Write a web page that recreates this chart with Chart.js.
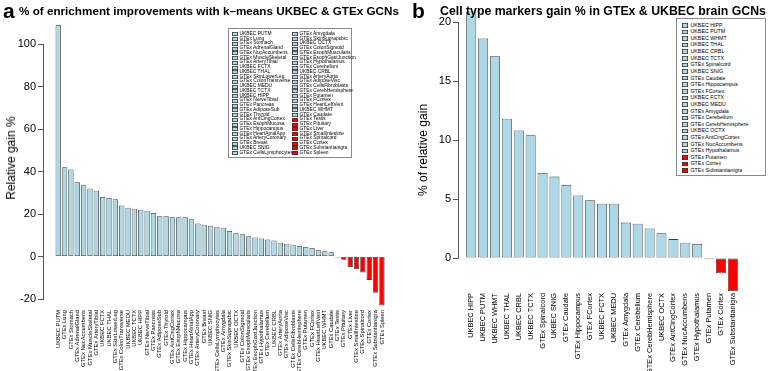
<!DOCTYPE html>
<html><head><meta charset="utf-8">
<script src="https://cdn.jsdelivr.net/npm/chart.js@4"></script>
<style>
body{margin:0;width:777px;height:371px;overflow:hidden;background:#fff;font-family:"Liberation Sans",Arial,sans-serif;position:relative}
canvas{position:absolute;top:0}
#ca{left:0}
#cb{left:400px}
.title{position:absolute;font-weight:bold;white-space:nowrap;color:#000;line-height:1}
.ytitle{position:absolute;white-space:nowrap;font-size:12px;color:#000;transform:translate(-50%,-50%) rotate(-90deg);line-height:1}
.leg{position:absolute;border:1px solid #8a8a8a;background:#fff;box-sizing:border-box;display:grid;grid-auto-flow:column;color:#000}
.li{display:flex;align-items:center;white-space:nowrap;line-height:1;overflow:visible}
.sw{display:inline-block;box-sizing:border-box;flex:none;box-shadow:inset 0 0 0 0.8px #333}
</style></head><body>
<canvas id="ca" width="400" height="371"></canvas>
<canvas id="cb" width="377" height="371"></canvas>
<div class="title" style="left:3px;top:0px;font-size:21px">a</div>
<div class="title" style="left:19px;top:5px;font-size:11.7px">% of enrichment improvements with k–means UKBEC &amp; GTEx GCNs</div>
<div class="title" style="left:412px;top:0px;font-size:21px">b</div>
<div class="title" style="left:440px;top:5px;font-size:12.3px">Cell type markers gain % in GTEx &amp; UKBEC brain GCNs</div>
<div class="ytitle" style="left:11px;top:158px">Relative gain %</div>
<div class="ytitle" style="left:423px;top:150px">% of relative gain</div>
<div id="legA" class="leg"></div>
<div id="legB" class="leg"></div>
<script>
// ---- data ----
const tissuesA = ["UKBEC PUTM","GTEx Lung","GTEx Stomach","GTEx AdrenalGland","GTEx NucAccumbens","GTEx MuscleSkeletal","GTEx ArteryTibial","UKBEC FCTX","UKBEC THAL","GTEx SkinLowerLeg","GTEx ColonTransverse","UKBEC MEDU","UKBEC TCTX","UKBEC HIPP","GTEx NerveTibial","GTEx Pancreas","GTEx AdiposeSub","GTEx Thyroid","GTEx AntCingCortex","GTEx EsophMucosa","GTEx Hippocampus","GTEx HeartAtrialApp","GTEx ArteryCoronary","GTEx Breast","UKBEC SNIG","GTEx CellsLymphocytes","GTEx Amygdala","GTEx SkinSuprapubic","UKBEC OCTX","GTEx ColonSigmoid","GTEx EsophMuscularis","GTEx EsophGastJunction","GTEx Hypothalamus","GTEx Cerebellum","UKBEC CRBL","GTEx ArteryAorta","GTEx AdiposeVisc","GTEx CellsFibroblasts","GTEx CerebHemisphere","GTEx Putamen","GTEx FCortex","GTEx HeartLeftVent","UKBEC WHMT","GTEx Caudate","GTEx Testis","GTEx Pituitary","GTEx Liver","GTEx SmallIntestine","GTEx Spinalcord","GTEx Cortex","GTEx Substantianigra","GTEx Spleen"];
const gainA = [109,42,41,35,33.5,32,31,28,27.5,27,24,23,22.5,22,21.5,20.5,19,19,18.5,18.5,18.5,17.5,15.5,15,14.5,14,13.5,12,11,10.5,9.5,9,8.5,8,7.5,6.5,6,5.5,5,4.5,4,3,2.5,2,-0.5,-1.5,-5,-6,-7.5,-11,-17,-23];
const ticksA = [-20,0,20,40,60,80,100];

const tissuesB = ["UKBEC HIPP","UKBEC PUTM","UKBEC WHMT","UKBEC THAL","UKBEC CRBL","UKBEC TCTX","GTEx Spinalcord","UKBEC SNIG","GTEx Caudate","GTEx Hippocampus","GTEx FCortex","UKBEC FCTX","UKBEC MEDU","GTEx Amygdala","GTEx Cerebellum","GTEx CerebHemisphere","UKBEC OCTX","GTEx AntCingCortex","GTEx NucAccumbens","GTEx Hypothalamus","GTEx Putamen","GTEx Cortex","GTEx Substantianigra"];
const gainB = [20.9,18.6,17.1,11.8,10.8,10.4,7.2,6.9,6.2,5.3,4.9,4.6,4.6,3.0,2.9,2.5,2.1,1.6,1.3,1.2,-0.1,-1.3,-2.8];
const ticksB = [0,5,10,15,20];

// ---- styles ----
const BLUE = "#add8e6", RED = "#ff0000", EDGE = "#3c3c3c", AX = "#555";
const FONT = "'Liberation Sans', Arial, sans-serif";
const colorOf = v => v < 0 ? RED : BLUE;

function makeChart(id, labels, values, yTicks, o) {
  return new Chart(document.getElementById(id), {
    type: "bar",
    data: { datasets: [{
      data: values.map((v, i) => ({ x: i, y: v })),
      backgroundColor: values.map(colorOf),
      borderColor: EDGE, borderWidth: o.bw, borderSkipped: false,
      barPercentage: o.barPct, categoryPercentage: 1, clip: false
    }]},
    options: {
      responsive: false, animation: false, devicePixelRatio: 1,
      layout: { padding: { top: o.top, right: o.right, left: 0, bottom: 0 } },
      plugins: { legend: { display: false }, tooltip: { enabled: false } },
      scales: {
        x: {
          type: "linear", min: o.xmin, max: o.xmax, offset: false,
          grid: { display: false, drawTicks: false }, border: { display: false },
          afterBuildTicks: s => { s.ticks = labels.map((_, i) => ({ value: i })); },
          afterFit: s => { s.height = o.xh; },
          ticks: { autoSkip: false, minRotation: 90, maxRotation: 90, padding: o.xpad,
            color: "#000", font: { family: FONT, size: o.xfs },
            callback: v => labels[v] }
        },
        y: {
          min: yTicks[0], max: yTicks[yTicks.length - 1],
          afterBuildTicks: s => { s.ticks = yTicks.map(v => ({ value: v })); },
          afterFit: s => { s.width = o.yw; },
          grid: { drawOnChartArea: false, drawTicks: true, tickLength: 5, color: AX },
          border: { display: true, color: AX, width: 1 },
          ticks: { padding: 2, color: "#000", font: { family: FONT, size: 11 } }
        }
      }
    }
  });
}

makeChart("ca", tissuesA, gainA, ticksA,
  { top: 44, right: 8, xmin: -2.4, xmax: 51.8, xh: 72, xpad: 11, xfs: 5.8, yw: 43, barPct: 0.84, bw: 0.8 });
makeChart("cb", tissuesB, gainB, ticksB,
  { top: 22, right: 9, xmin: -1.11, xmax: 22.65, xh: 113, xpad: 35, xfs: 7.4, yw: 58, barPct: 0.84, bw: 0.8 });

function buildLegend(id, labels, values, box) {
  const el = document.getElementById(id);
  Object.assign(el.style, { left: box.x + "px", top: box.y + "px", width: box.w + "px", height: box.h + "px",
    padding: box.pt + "px 0 0 " + box.pl + "px", fontSize: box.fs + "px",
    gridTemplateRows: "repeat(" + box.rows + "," + box.rh + "px)",
    gridTemplateColumns: "repeat(" + Math.ceil(labels.length / box.rows) + "," + box.cw + "px)" });
  labels.forEach((t, i) => {
    const d = document.createElement("div"); d.className = "li";
    const s = document.createElement("span"); s.className = "sw";
    Object.assign(s.style, { width: box.sw + "px", height: box.sh + "px", marginRight: box.gap + "px", background: colorOf(values[i]) });
    d.appendChild(s); d.appendChild(document.createTextNode(t)); el.appendChild(d);
  });
}
buildLegend("legA", tissuesA, gainA, { x: 228, y: 28, w: 124, h: 130, pt: 3, pl: 3, fs: 4.9, rows: 26, rh: 4.76, cw: 60, sw: 5.5, sh: 4, gap: 2 });
buildLegend("legB", tissuesB, gainB, { x: 676, y: 18, w: 90, h: 158, pt: 3, pl: 5, fs: 5.3, rows: 23, rh: 6.62, cw: 85, sw: 6, sh: 4.6, gap: 2.5 });
</script>
</body></html>
